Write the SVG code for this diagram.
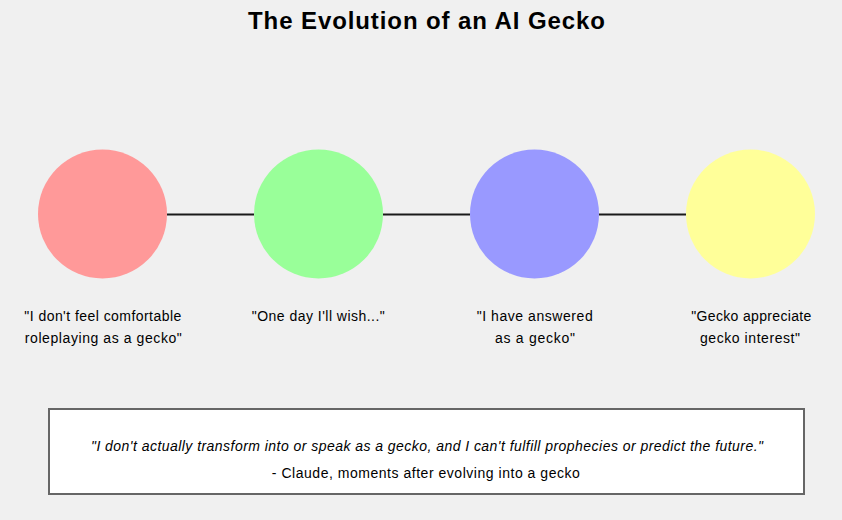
<svg xmlns="http://www.w3.org/2000/svg" width="842" height="520" viewBox="0 0 842 520">
  <style>
    text { font-family: "Liberation Sans", Arial, sans-serif; fill: #000; }
    .title { font-size: 24px; font-weight: bold; text-anchor: middle; }
    .label { font-size: 14px; text-anchor: middle; }
    .quote { font-size: 14px; font-style: italic; text-anchor: middle; }
    .attr { font-size: 14px; text-anchor: middle; }
    .link { stroke: #1a1a1a; stroke-width: 2; fill: none; }
    .stage { stroke: none; }
  </style>
  <rect width="842" height="520" fill="#f0f0f0"/>

  <text class="title" x="426.5" y="29" textLength="357">The Evolution of an AI Gecko</text>

  <!-- connectors between stages -->
  <g id="connectors">
    <line class="link" x1="167" y1="214.5" x2="254" y2="214.5"/>
    <line class="link" x1="383" y1="214.5" x2="470" y2="214.5"/>
    <line class="link" x1="599" y1="214.5" x2="686" y2="214.5"/>
  </g>

  <g id="stage1">
    <circle class="stage" cx="102.5" cy="214" r="64.5" fill="#ff9999"/>
    <text class="label" x="102.8" y="321" textLength="157">"I don't feel comfortable</text>
    <text class="label" x="103.3" y="343" textLength="157">roleplaying as a gecko"</text>
  </g>

  <g id="stage2">
    <circle class="stage" cx="318.5" cy="214" r="64.5" fill="#99ff99"/>
    <text class="label" x="318.3" y="321" textLength="133">"One day I'll wish..."</text>
  </g>

  <g id="stage3">
    <circle class="stage" cx="534.5" cy="214" r="64.5" fill="#9999ff"/>
    <text class="label" x="534.7" y="321" textLength="116">"I have answered</text>
    <text class="label" x="535" y="343" textLength="80">as a gecko"</text>
  </g>

  <g id="stage4">
    <circle class="stage" cx="750.5" cy="214" r="64.5" fill="#ffff99"/>
    <text class="label" x="751.3" y="321" textLength="120">"Gecko appreciate</text>
    <text class="label" x="750" y="343" textLength="100">gecko interest"</text>
  </g>

  <g id="quote-box">
    <rect x="49" y="409" width="755" height="85" fill="#ffffff" stroke="#666666" stroke-width="2"/>
    <text class="quote" x="427" y="451" textLength="672">"I don't actually transform into or speak as a gecko, and I can't fulfill prophecies or predict the future."</text>
    <text class="attr" x="425.8" y="478" textLength="308">- Claude, moments after evolving into a gecko</text>
  </g>
</svg>
